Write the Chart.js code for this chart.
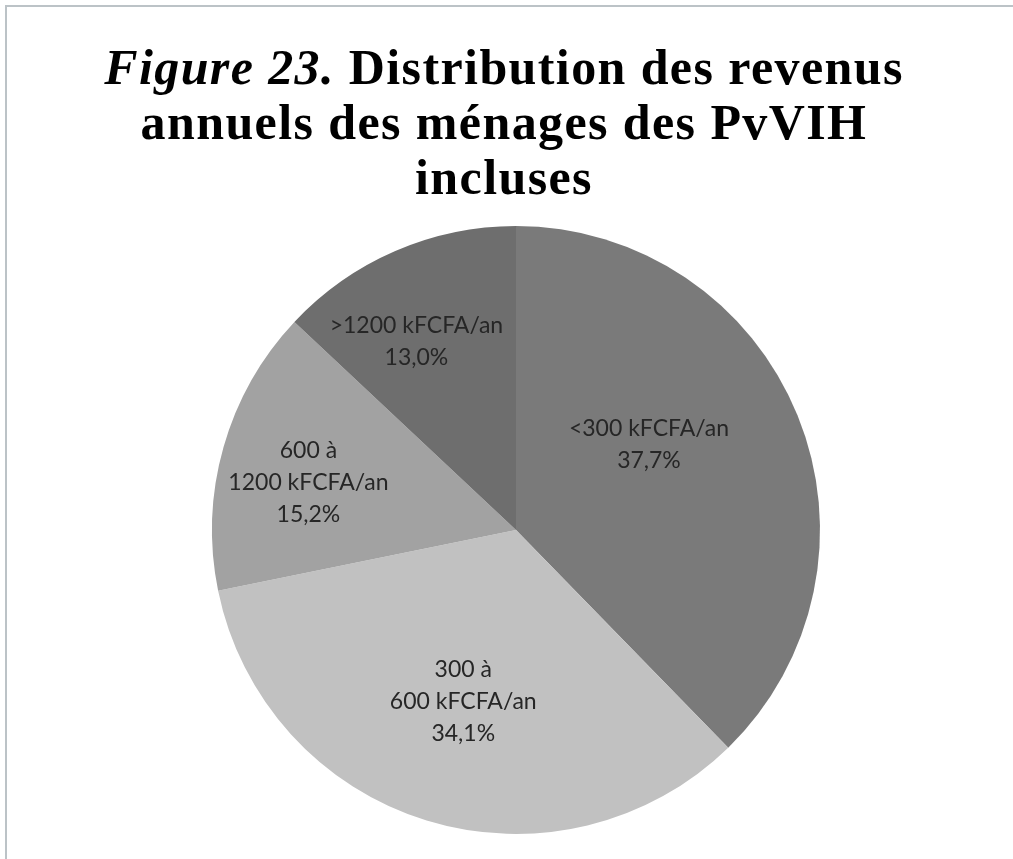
<!DOCTYPE html>
<html>
<head>
<meta charset="utf-8">
<script src="https://cdn.jsdelivr.net/npm/chart.js@4/dist/chart.umd.min.js"></script>
<style>
html,body{margin:0;padding:0;background:#fff;width:1013px;height:859px;overflow:hidden;}
#frame{position:absolute;left:5px;top:5px;width:1100px;height:1000px;border:2px solid #bcc3c7;box-sizing:border-box;}
#title{position:absolute;left:0;top:40px;width:1008px;text-align:center;font-family:"Liberation Serif",serif;font-weight:bold;font-size:50px;line-height:55px;letter-spacing:1.4px;color:#000;z-index:2;}
#pie{position:absolute;left:0;top:0;}
</style>
</head>
<body>
<div id="frame"></div>
<div id="title"><i>Figure 23.</i> Distribution des revenus<br>annuels des ménages des PvVIH<br>incluses</div>
<canvas id="pie" width="1013" height="859"></canvas>
<script>
// -------------------- DATA --------------------
const categories = [
    ["<300 kFCFA/an"],
    ["300 à", "600 kFCFA/an"],
    ["600 à", "1200 kFCFA/an"],
    [">1200 kFCFA/an"]
];
const shares = [37.7, 34.1, 15.2, 13.0];
const sliceColors = ["#7a7a7a", "#c1c1c1", "#a2a2a2", "#6e6e6e"];

// -------------------- LABEL PLUGIN --------------------
function fmtPct(v){ return v.toFixed(1).replace(".", ",") + "%"; }

const sliceLabels = {
    id: "sliceLabels",
    afterDatasetsDraw(chart, args, opts){
        const ctx = chart.ctx;
        const meta = chart.getDatasetMeta(0);
        ctx.save();
        ctx.font = opts.font;
        ctx.fillStyle = opts.color;
        ctx.textAlign = "center";
        ctx.textBaseline = "middle";
        meta.data.forEach((arc, i) => {
            const p = opts.place[i];
            const mid = (arc.startAngle + arc.endAngle) / 2 + p.da * Math.PI / 180;
            const r = arc.outerRadius * p.r;
            const x = arc.x + Math.cos(mid) * r;
            const y = arc.y + Math.sin(mid) * r;
            const lines = [...chart.data.labels[i], fmtPct(shares[i])];
            const top = y - (lines.length - 1) * opts.lineHeight / 2;
            lines.forEach((t, k) => ctx.fillText(t, x, top + k * opts.lineHeight));
        });
        ctx.restore();
    }
};

// -------------------- CHART --------------------
new Chart(document.getElementById("pie"), {
    type: "pie",
    data: {
        labels: categories,
        datasets: [{ data: shares, backgroundColor: sliceColors, borderWidth: 0 }]
    },
    options: {
        responsive: false,
        animation: false,
        layout: { padding: { left: 212, right: 193, top: 226, bottom: 25 } },
        plugins: {
            legend: { display: false },
            tooltip: { enabled: false },
            sliceLabels: {
                font: "23px Lato",
                color: "#262626",
                lineHeight: 32,
                place: [
                    { r: 0.52, da: -10.6 },
                    { r: 0.59, da: 0 },
                    { r: 0.70, da: -3.1 },
                    { r: 0.70, da: -4.5 }
                ]
            }
        }
    },
    plugins: [sliceLabels]
});
</script>
</body>
</html>
